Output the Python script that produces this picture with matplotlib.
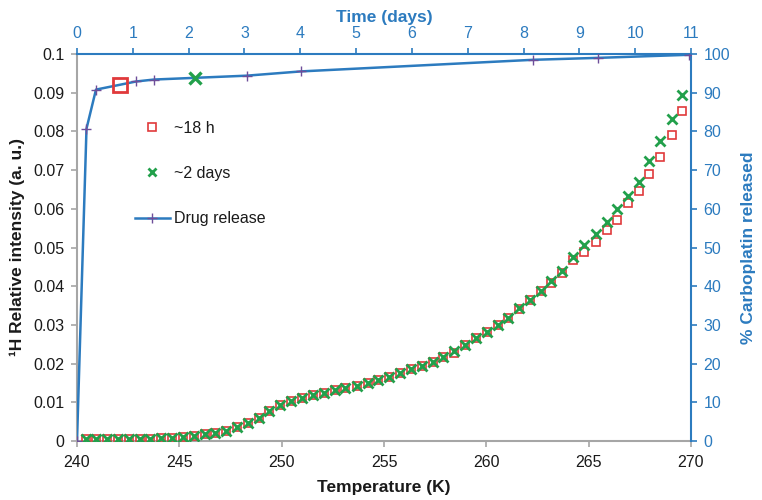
import matplotlib
matplotlib.use("Agg")
import matplotlib.pyplot as plt
from matplotlib.lines import Line2D

plt.rcParams['font.family'] = ['Liberation Sans', 'DejaVu Sans']

# Temperature (K)
temperature = [240.42, 240.95, 241.48, 242.00, 242.52, 243.06, 243.58, 244.12, 244.65, 245.17,
               245.71, 246.23, 246.75, 247.29, 247.82, 248.36, 248.88, 249.40, 249.92, 250.46,
               251.00, 251.51, 252.05, 252.59, 253.11, 253.68, 254.20, 254.73, 255.25, 255.79,
               256.31, 256.85, 257.37, 257.90, 258.42, 258.96, 259.48, 260.02, 260.56, 261.07,
               261.60, 262.13, 262.65, 263.17, 263.71, 264.24, 264.77, 265.34, 265.89, 266.39,
               266.93, 267.45, 267.97, 268.50, 269.05, 269.56]

# ~18 h series (1H relative intensity)
int_18h = [0.0005, 0.0005, 0.0005, 0.0005, 0.0005, 0.0006, 0.0006, 0.0007, 0.0009, 0.0011,
           0.0014, 0.0017, 0.0021, 0.0027, 0.0035, 0.0047, 0.0060, 0.0078, 0.0092, 0.0103,
           0.0110, 0.0118, 0.0125, 0.0132, 0.0136, 0.0141, 0.0150, 0.0157, 0.0166, 0.0176,
           0.0185, 0.0195, 0.0205, 0.0218, 0.0228, 0.0248, 0.0265, 0.0282, 0.0300, 0.0319,
           0.0340, 0.0364, 0.0388, 0.0408, 0.0435, 0.0468, 0.0489, 0.0515, 0.0545, 0.0571,
           0.0614, 0.0647, 0.0689, 0.0735, 0.0791, 0.0853]

# ~2 days series
int_2d = [0.0005, 0.0005, 0.0005, 0.0005, 0.0005, 0.0006, 0.0006, 0.0007, 0.0009, 0.0011,
          0.0014, 0.0017, 0.0021, 0.0027, 0.0035, 0.0047, 0.0060, 0.0078, 0.0092, 0.0103,
          0.0110, 0.0118, 0.0125, 0.0132, 0.0136, 0.0141, 0.0150, 0.0157, 0.0166, 0.0176,
          0.0185, 0.0195, 0.0205, 0.0218, 0.0233, 0.0248, 0.0265, 0.0282, 0.0300, 0.0319,
          0.0344, 0.0364, 0.0388, 0.0414, 0.0438, 0.0476, 0.0506, 0.0535, 0.0567, 0.0599,
          0.0633, 0.0668, 0.0724, 0.0775, 0.0831, 0.0894]

# Drug release (time in days, % carboplatin released)
time_days = [0.0, 0.17, 0.34, 1.06, 1.38, 3.04, 4.01, 8.17, 9.33, 10.97]
released = [0.0, 80.7, 90.8, 92.9, 93.4, 94.4, 95.5, 98.5, 99.0, 99.8]

# highlighted time points
hl_18h = (0.77, 91.9)
hl_2d = (2.11, 93.9)

BLUE = '#2C7BBF'
RED = '#E0393B'
GREEN = '#22A04B'
PURPLE = '#6E4E9A'
GRAY = '#A6A6A6'
TXT = '#1a1a1a'

fig = plt.figure(figsize=(7.62, 5.0), dpi=100)
pos = [77/762, 59/500, 614/762, 387/500]
ax = fig.add_axes(pos)
ax2 = fig.add_axes(pos)
ax2.set_facecolor('none')

# Bottom / left axes
ax.plot(temperature, int_18h, linestyle='none', marker='s', markersize=6.2,
        markerfacecolor='none', markeredgecolor=RED, markeredgewidth=1.2, zorder=3)
ax.plot(temperature, int_2d, linestyle='none', marker='x', markersize=6.5,
        markeredgecolor=GREEN, markeredgewidth=2.0, zorder=4)
ax.set_xlim(240, 270)
ax.set_ylim(0, 0.1)
ax.set_xticks([240, 245, 250, 255, 260, 265, 270])
ax.set_yticks([0, 0.01, 0.02, 0.03, 0.04, 0.05, 0.06, 0.07, 0.08, 0.09, 0.1])
ax.set_yticklabels(['0', '0.01', '0.02', '0.03', '0.04', '0.05', '0.06', '0.07', '0.08', '0.09', '0.1'])
for s in ['top', 'right']:
    ax.spines[s].set_visible(False)
for s in ['left', 'bottom']:
    ax.spines[s].set_color(GRAY)
    ax.spines[s].set_linewidth(1.5)
ax.tick_params(axis='both', direction='out', length=4, width=1.2, color=GRAY,
               labelsize=11.5, labelcolor=TXT)
ax.tick_params(axis='x', pad=6)
ax.tick_params(axis='y', pad=5)
ax.set_xlabel('Temperature (K)', fontsize=12.5, fontweight='bold', color=TXT, labelpad=7)
ax.set_ylabel('¹H Relative intensity (a. u.)', fontsize=12.5, fontweight='bold', color=TXT, labelpad=6)

# Top / right axes
ax2.plot(time_days, released, color=BLUE, linewidth=1.8, marker='+', markersize=7.5,
         markeredgecolor=PURPLE, markeredgewidth=1.0, zorder=3)
ax2.plot([hl_18h[0]], [hl_18h[1]], linestyle='none', marker='s', markersize=10,
         markerfacecolor='none', markeredgecolor=RED, markeredgewidth=2.0, zorder=5)
ax2.plot([hl_2d[0]], [hl_2d[1]], linestyle='none', marker='x', markersize=9,
         markeredgecolor=GREEN, markeredgewidth=2.4, zorder=5)
ax2.set_xlim(0, 11)
ax2.set_ylim(0, 100)
ax2.set_xticks(range(0, 12))
ax2.set_yticks(range(0, 101, 10))
ax2.xaxis.tick_top()
ax2.xaxis.set_label_position('top')
ax2.yaxis.tick_right()
ax2.yaxis.set_label_position('right')
for s in ['left', 'bottom']:
    ax2.spines[s].set_visible(False)
for s in ['top', 'right']:
    ax2.spines[s].set_color(BLUE)
    ax2.spines[s].set_linewidth(1.5)
ax2.tick_params(axis='both', direction='out', length=4, width=1.2, color=BLUE,
                labelsize=11.5, labelcolor=BLUE, pad=5)
ax2.set_xlabel('Time (days)', fontsize=12.5, fontweight='bold', color=BLUE, labelpad=3)
ax2.set_ylabel('% Carboplatin released', fontsize=12.5, fontweight='bold', color=BLUE, labelpad=8)

handles = [
    Line2D([], [], linestyle='none', marker='s', markersize=6, markerfacecolor='none',
           markeredgecolor=RED, markeredgewidth=1.2),
    Line2D([], [], linestyle='none', marker='x', markersize=5.5, markeredgecolor=GREEN,
           markeredgewidth=2.0),
    Line2D([], [], color=BLUE, linewidth=1.8, marker='+', markersize=7,
           markeredgecolor=PURPLE, markeredgewidth=1.0),
]
leg = ax2.legend(handles, ['~18 h', '~2 days', 'Drug release'], loc='upper left',
                 bbox_to_anchor=(0.094, 0.828), frameon=False, fontsize=11.5,
                 labelspacing=1.9, handlelength=2.2, handletextpad=0.25,
                 borderpad=0, borderaxespad=0, markerscale=1.0)
for t in leg.get_texts():
    t.set_color(TXT)

fig.savefig('out.png', dpi=100)
